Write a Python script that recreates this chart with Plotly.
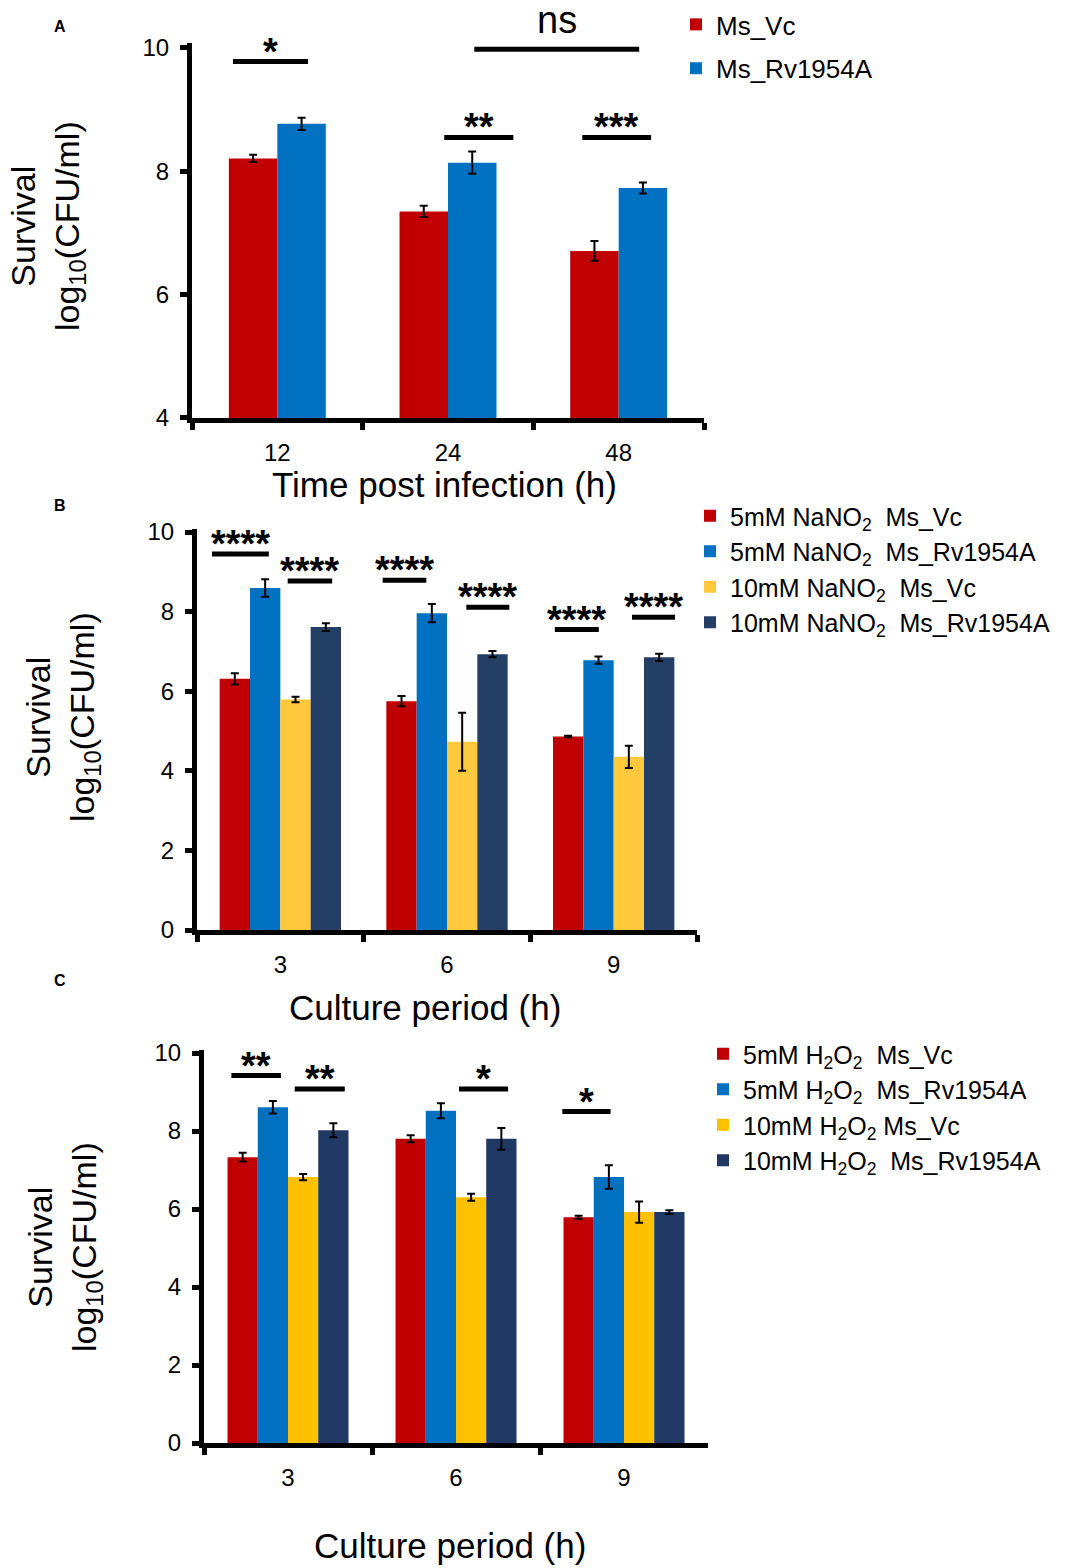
import plotly.graph_objects as go

# ---------------- data ----------------
# Panel A
timesA = ["12", "24", "48"]
A_names = ["Ms_Vc", "Ms_Rv1954A"]
A_vc = [8.21, 7.35, 6.71]
A_vc_err = [0.06, 0.09, 0.16]
A_rv = [8.77, 8.14, 7.73]
A_rv_err = [0.10, 0.18, 0.09]

# Panel B (NaNO2)
periods = ["3", "6", "9"]
B_names = ["5mM NaNO<sub>2</sub>\u00a0 Ms_Vc", "5mM NaNO<sub>2</sub>\u00a0 Ms_Rv1954A",
           "10mM NaNO<sub>2</sub>\u00a0 Ms_Vc", "10mM NaNO<sub>2</sub>\u00a0 Ms_Rv1954A"]
B_5vc = [6.31, 5.75, 4.86]
B_5vc_err = [0.14, 0.13, 0.02]
B_5rv = [8.59, 7.96, 6.78]
B_5rv_err = [0.22, 0.23, 0.09]
B_10vc = [5.79, 4.73, 4.35]
B_10vc_err = [0.07, 0.73, 0.28]
B_10rv = [7.61, 6.93, 6.85]
B_10rv_err = [0.10, 0.08, 0.09]

# Panel C (H2O2)
C_names = ["5mM H<sub>2</sub>O<sub>2</sub>\u00a0 Ms_Vc", "5mM H<sub>2</sub>O<sub>2</sub>\u00a0 Ms_Rv1954A",
           "10mM H<sub>2</sub>O<sub>2</sub> Ms_Vc", "10mM H<sub>2</sub>O<sub>2</sub>\u00a0 Ms_Rv1954A"]
C_5vc = [7.33, 7.80, 5.79]
C_5vc_err = [0.11, 0.09, 0.04]
C_5rv = [8.61, 8.52, 6.82]
C_5rv_err = [0.16, 0.19, 0.30]
C_10vc = [6.82, 6.30, 5.92]
C_10vc_err = [0.08, 0.09, 0.27]
C_10rv = [8.02, 7.80, 5.92]
C_10rv_err = [0.18, 0.28, 0.05]

# significance brackets: (start, end, height, label) in category units / y units
sigA = [(-0.26, 0.18, 9.78, "*"), (1.154, 2.12, 9.98, "ns"),
        (0.978, 1.383, 8.55, "**"), (1.787, 2.19, 8.55, "***")]
sigB = [(-0.41, -0.069, 9.45, "****"), (0.044, 0.311, 8.77, "****"),
        (0.614, 0.876, 8.79, "****"), (1.116, 1.374, 8.11, "****"),
        (1.647, 1.911, 7.55, "****"), (2.11, 2.368, 7.86, "****")]
sigC = [(-0.337, -0.042, 9.42, "**"), (0.04, 0.338, 9.08, "**"),
        (1.018, 1.31, 9.08, "*"), (1.633, 1.92, 8.50, "*")]

# ---------------- styling ----------------
W, H = 1077, 1568
FONT = "Arial, Liberation Sans, sans-serif"
RED, BLUE = "#C00000", "#0070C0"
YEL_B, NAVY_B = "#FFC83D", "#243F66"
YEL_C, NAVY_C = "#FFC000", "#1F3864"


def px_x(p):
    return p / W


def px_y(p):
    return 1 - p / H


fig = go.Figure()

ERR = dict(type="data", color="black", thickness=2, width=4)


def add_bars(x, vals, errs, name, color, xa, ya, legend, width, offset, group):
    fig.add_trace(go.Bar(
        x=x, y=vals, name=name, marker=dict(color=color, line=dict(width=0)),
        error_y=dict(array=errs, **ERR), xaxis=xa, yaxis=ya, legend=legend,
        width=width, offset=offset, legendgroup=group,
    ))


# Panel A
wA = 0.284
add_bars(timesA, A_vc, A_vc_err, A_names[0], RED, "x", "y", "legend", wA, -wA, "a1")
add_bars(timesA, A_rv, A_rv_err, A_names[1], BLUE, "x", "y", "legend", wA, 0, "a2")

# Panel B
wB = 0.182
B_vals = [(B_5vc, B_5vc_err, RED), (B_5rv, B_5rv_err, BLUE),
          (B_10vc, B_10vc_err, YEL_B), (B_10rv, B_10rv_err, NAVY_B)]
for i, (v, e, c) in enumerate(B_vals):
    add_bars(periods, v, e, B_names[i], c, "x2", "y2", "legend2", wB, -2 * wB + i * wB, "b%d" % i)

# Panel C
wC = 0.18
C_vals = [(C_5vc, C_5vc_err, RED), (C_5rv, C_5rv_err, BLUE),
          (C_10vc, C_10vc_err, YEL_C), (C_10rv, C_10rv_err, NAVY_C)]
for i, (v, e, c) in enumerate(C_vals):
    add_bars(periods, v, e, C_names[i], c, "x3", "y3", "legend3", wC, -2 * wC + i * wC, "c%d" % i)

# axes geometry (pixels)
panels = {
    "A": dict(xl=192, xr=704, yb=418, vb=4, yt10=48, top=10.08),
    "B": dict(xl=197, xr=697, yb=930, vb=0, yt10=532, top=10.07),
    "C": dict(xl=204, xr=708, yb=1443, vb=0, yt10=1053, top=10.07),
}

axis_common = dict(
    showline=True, linecolor="black", linewidth=5, ticks="outside", tickwidth=5,
    ticklen=7, tickcolor="black", showgrid=False, zeroline=False, automargin=False,
    tickfont=dict(family=FONT, size=24, color="black"),
)

layout_axes = {}
for idx, key in enumerate(["A", "B", "C"]):
    p = panels[key]
    scale = (p["yb"] - p["yt10"]) / (10 - p["vb"])
    top_px = p["yt10"] - (p["top"] - 10) * scale
    sfx = "" if idx == 0 else str(idx + 1)
    layout_axes["xaxis" + sfx] = dict(
        axis_common, domain=[px_x(p["xl"]), px_x(p["xr"])], anchor="y" + sfx,
        type="category", range=[-0.5, 2.5], tickson="boundaries", ticklabelstandoff=9,
    )
    layout_axes["yaxis" + sfx] = dict(
        axis_common, domain=[px_y(p["yb"]), px_y(top_px)], anchor="x" + sfx,
        range=[p["vb"], p["top"]], tickvals=list(range(p["vb"], 11, 2)), ticklabelstandoff=6,
    )

shapes = []
annotations = []


def add_sig(sig, xr, yr, fsize):
    for x0, x1, y, lab in sig:
        shapes.append(dict(type="line", xref=xr, yref=yr, x0=x0, x1=x1, y0=y, y1=y,
                           line=dict(color="black", width=5)))
        if lab == "ns":
            annotations.append(dict(xref=xr, yref=yr, x=(x0 + x1) / 2, y=y, text=lab,
                                    showarrow=False, yanchor="bottom", yshift=6,
                                    font=dict(family=FONT, size=38, color="black")))
        else:
            annotations.append(dict(xref=xr, yref=yr, x=(x0 + x1) / 2, y=y, text="<b>%s</b>" % lab,
                                    showarrow=False, yanchor="bottom", yshift=-13,
                                    font=dict(family=FONT, size=fsize, color="black")))


add_sig(sigA, "x", "y", 38)
add_sig(sigB, "x2", "y2", 38)
add_sig(sigC, "x3", "y3", 38)

# panel letters
for lab, yp in [("A", 27), ("B", 505), ("C", 980)]:
    annotations.append(dict(xref="paper", yref="paper", x=px_x(60), y=px_y(yp), text="<b>%s</b>" % lab,
                            showarrow=False, xanchor="center", yanchor="middle",
                            font=dict(family=FONT, size=16, color="black")))

# y-axis titles
for xp, yp in [(48, 226), (63, 717), (64, 1247)]:
    annotations.append(dict(xref="paper", yref="paper", x=px_x(xp), y=px_y(yp),
                            text="Survival<br>log<sub>10</sub>(CFU/ml)", textangle=-90,
                            showarrow=False, xanchor="center", yanchor="middle",
                            font=dict(family=FONT, size=34, color="black")))

# x-axis titles
for txt, xp, yp in [("Time post infection (h)", 444, 484), ("Culture period (h)", 425, 1007),
                    ("Culture period (h)", 450, 1545)]:
    annotations.append(dict(xref="paper", yref="paper", x=px_x(xp), y=px_y(yp), text=txt,
                            showarrow=False, xanchor="center", yanchor="middle",
                            font=dict(family=FONT, size=35, color="black")))

leg_common = dict(xanchor="left", yanchor="top", bgcolor="rgba(0,0,0,0)",
                  traceorder="grouped", itemwidth=30)

fig.update_layout(
    width=W, height=H, margin=dict(l=0, r=0, t=0, b=0, autoexpand=False),
    paper_bgcolor="white", plot_bgcolor="white",
    barmode="overlay", showlegend=True,
    shapes=shapes, annotations=annotations,
    legend=dict(leg_common, x=px_x(676), y=px_y(1), tracegroupgap=7,
                font=dict(family=FONT, size=26, color="black")),
    legend2=dict(leg_common, x=px_x(690), y=px_y(493), tracegroupgap=0,
                 font=dict(family=FONT, size=25, color="black")),
    legend3=dict(leg_common, x=px_x(703), y=px_y(1031), tracegroupgap=0,
                 font=dict(family=FONT, size=25, color="black")),
    **layout_axes,
)

fig.write_html("out.html", config={"displayModeBar": False},
               post_script="document.body.style.margin='0';")
